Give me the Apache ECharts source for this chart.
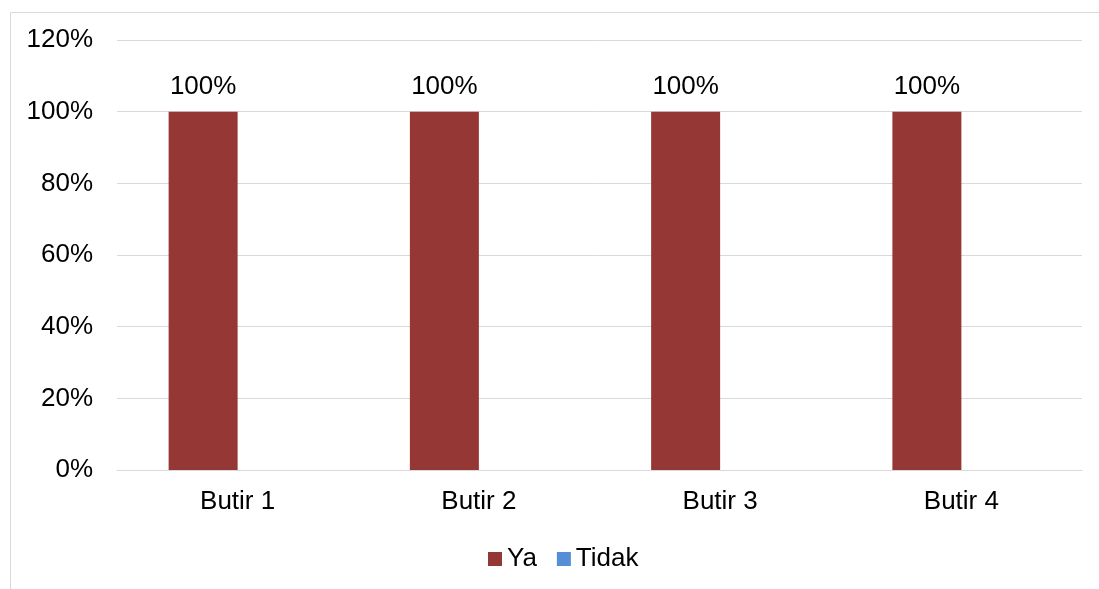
<!DOCTYPE html>
<html><head><meta charset="utf-8">
<script src="https://cdn.jsdelivr.net/npm/echarts@6/dist/echarts.min.js"></script>
<style>html,body{margin:0;padding:0;background:#fff}#c{width:1099px;height:589px}</style>
</head><body><div id="c"></div>
<script>
const categories = ['Butir 1', 'Butir 2', 'Butir 3', 'Butir 4'];
const yaValues = [100, 100, 100, 100];
const tidakValues = [0, 0, 0, 0];
const seriesNames = ['Ya', 'Tidak'];

const chart = echarts.init(document.getElementById('c'), null, {renderer: 'canvas'});
const font = 'Liberation Sans, Arial, sans-serif';
chart.setOption({
  animation: false,
  graphic: [{
    type: 'rect', left: 8, top: 10, z: -10,
    shape: {width: 1200, height: 700},
    style: {fill: 'none', stroke: '#d9d9d9', lineWidth: 1}
  }],
  grid: {left: 117, right: 17, top: 40, bottom: 119},
  legend: {
    data: seriesNames, top: 541, left: 483,
    itemWidth: 14, itemHeight: 14, itemGap: 20,
    icon: 'rect',
    textStyle: {fontFamily: font, fontSize: 26, color: '#000'}
  },
  xAxis: {
    type: 'category', data: categories,
    axisLine: {lineStyle: {color: '#d9d9d9', width: 1}},
    axisTick: {show: false},
    axisLabel: {fontFamily: font, fontSize: 26, color: '#000', margin: 19}
  },
  yAxis: {
    type: 'value', min: 0, max: 120, interval: 20,
    axisLine: {show: false}, axisTick: {show: false},
    splitLine: {lineStyle: {color: '#d9d9d9', width: 1}},
    axisLabel: {fontFamily: font, fontSize: 26, color: '#000', margin: 24, formatter: '{value}%'}
  },
  series: [{
    name: seriesNames[0], type: 'bar', data: yaValues, barWidth: 69, barGap: '0%',
    itemStyle: {color: '#953735'},
    label: {show: true, position: 'top', distance: 12, formatter: '{c}%', fontFamily: font, fontSize: 26, color: '#000'}
  }, {
    name: seriesNames[1], type: 'bar', data: tidakValues, barWidth: 69, barGap: '0%',
    itemStyle: {color: '#558ed5'}
  }]
});
</script></body></html>
